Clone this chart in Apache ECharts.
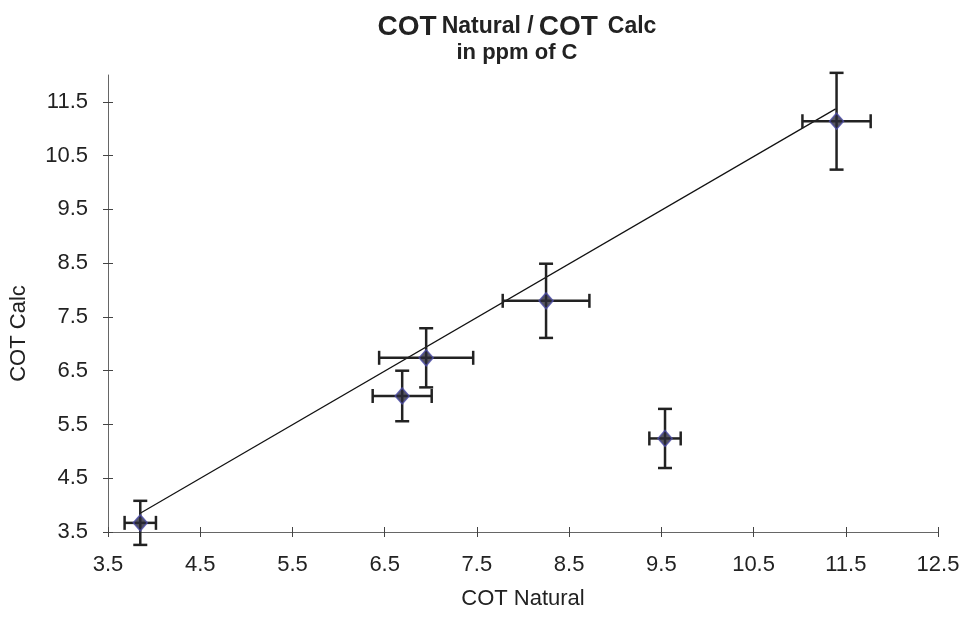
<!DOCTYPE html>
<html>
<head>
<meta charset="utf-8">
<style>
  html, body { margin: 0; padding: 0; background: #fff; }
  #chart { width: 963px; height: 619px; }
</style>
<script src="https://cdn.jsdelivr.net/npm/echarts@6/dist/echarts.min.js"></script>
</head>
<body>
<div id="chart"></div>
<script>
// values
const cotNatural = [3.85, 6.69, 6.95, 8.25, 9.54, 11.40];
const cotCalc = [3.67, 6.03, 6.74, 7.80, 5.24, 11.14];
const errNatural = [0.17, 0.32, 0.51, 0.47, 0.17, 0.37];
const errCalc = [0.41, 0.47, 0.55, 0.69, 0.55, 0.90];
const trendX = [3.84, 11.39];
const trendY = [3.84, 11.37];
const xTicks = [3.5, 4.5, 5.5, 6.5, 7.5, 8.5, 9.5, 10.5, 11.5, 12.5];
const yTicks = [3.5, 4.5, 5.5, 6.5, 7.5, 8.5, 9.5, 10.5, 11.5];

const font = "Liberation Sans, Arial, sans-serif";
const ink = "#222";

const points = cotNatural.map((x, i) => [x, cotCalc[i]]);
const bars = cotNatural.map((x, i) => [x, cotCalc[i], errNatural[i], errCalc[i]]);
const trend = trendX.map((x, i) => [x, trendY[i]]);

function renderBar(params, api) {
  const x = api.value(0), y = api.value(1);
  const ex = api.value(2), ey = api.value(3);
  const left = api.coord([x - ex, y]);
  const right = api.coord([x + ex, y]);
  const top = api.coord([x, y + ey]);
  const bottom = api.coord([x, y - ey]);
  const cap = 7;
  const style = { stroke: ink, lineWidth: 2.5 };
  const seg = (x1, y1, x2, y2) => ({
    type: "line",
    shape: { x1, y1, x2, y2 },
    style,
  });
  return {
    type: "group",
    children: [
      seg(left[0], left[1], right[0], right[1]),
      seg(left[0], left[1] - cap, left[0], left[1] + cap),
      seg(right[0], right[1] - cap, right[0], right[1] + cap),
      seg(top[0], top[1], bottom[0], bottom[1]),
      seg(top[0] - cap, top[1], top[0] + cap, top[1]),
      seg(bottom[0] - cap, bottom[1], bottom[0] + cap, bottom[1]),
    ],
  };
}

const chart = echarts.init(document.getElementById("chart"));

const tickStyle = { color: "#444" };

chart.setOption({
  animation: false,
  textStyle: { fontFamily: font },
  title: {
    text: "{big|COT} {small|Natural /} {big|COT}  {small|Calc}",
    subtext: "in ppm of C",
    left: 512,
    top: 8,
    textAlign: "center",
    itemGap: 1,
    textStyle: {
      rich: {
        big: { fontSize: 28, fontWeight: "bold", color: ink, fontFamily: font },
        small: { fontSize: 23, fontWeight: "bold", color: ink, fontFamily: font },
      },
    },
    subtextStyle: { fontSize: 22, fontWeight: "bold", color: ink, fontFamily: font },
  },
  grid: { left: 107, right: 25, top: 75, bottom: 87 },
  xAxis: [
    {
      type: "value",
      min: 3.5,
      max: 12.5,
      interval: 1,
      name: "COT Natural",
      nameLocation: "middle",
      nameGap: 56,
      nameTextStyle: { fontSize: 22, color: ink },
      axisLine: { lineStyle: { color: "#666", width: 1 } },
      axisTick: { show: true, length: 5, lineStyle: tickStyle, customValues: xTicks },
      axisLabel: { fontSize: 22, color: ink, margin: 22, customValues: xTicks, formatter: (v) => v.toFixed(1) },
      splitLine: { show: false },
    },
    {
      type: "value",
      position: "bottom",
      min: 3.5,
      max: 12.5,
      interval: 1,
      axisLine: { show: false },
      axisTick: { show: true, inside: true, length: 5, lineStyle: tickStyle, customValues: xTicks },
      axisLabel: { show: false },
      splitLine: { show: false },
    },
  ],
  yAxis: [
    {
      type: "value",
      min: 3.5,
      max: 12,
      interval: 1,
      name: "COT Calc",
      nameLocation: "middle",
      nameGap: 78,
      nameTextStyle: { fontSize: 22, color: ink, padding: [0, 60, 0, 0] },
      axisLine: { show: true, lineStyle: { color: "#666", width: 1 } },
      axisTick: { show: true, length: 5, lineStyle: tickStyle, customValues: yTicks },
      axisLabel: { fontSize: 22, color: ink, margin: 20, customValues: yTicks, formatter: (v) => v.toFixed(1) },
      splitLine: { show: false },
    },
    {
      type: "value",
      position: "left",
      min: 3.5,
      max: 12,
      interval: 1,
      axisLine: { show: false },
      axisTick: { show: true, inside: true, length: 5, lineStyle: tickStyle, customValues: yTicks },
      axisLabel: { show: false },
      splitLine: { show: false },
    },
  ],
  series: [
    {
      name: "trend",
      type: "line",
      data: trend,
      showSymbol: false,
      lineStyle: { color: "#111", width: 1.2 },
      z: 2,
    },
    {
      name: "errors",
      type: "custom",
      renderItem: renderBar,
      data: bars,
      encode: { x: 0, y: 1 },
      z: 3,
    },
    {
      name: "points",
      type: "scatter",
      data: points,
      symbol: "diamond",
      symbolSize: [14, 16],
      itemStyle: { color: "#2a2a38", borderColor: "#4b4ba6", borderWidth: 1.5 },
      z: 4,
    },
  ],
});
</script>
</body>
</html>
